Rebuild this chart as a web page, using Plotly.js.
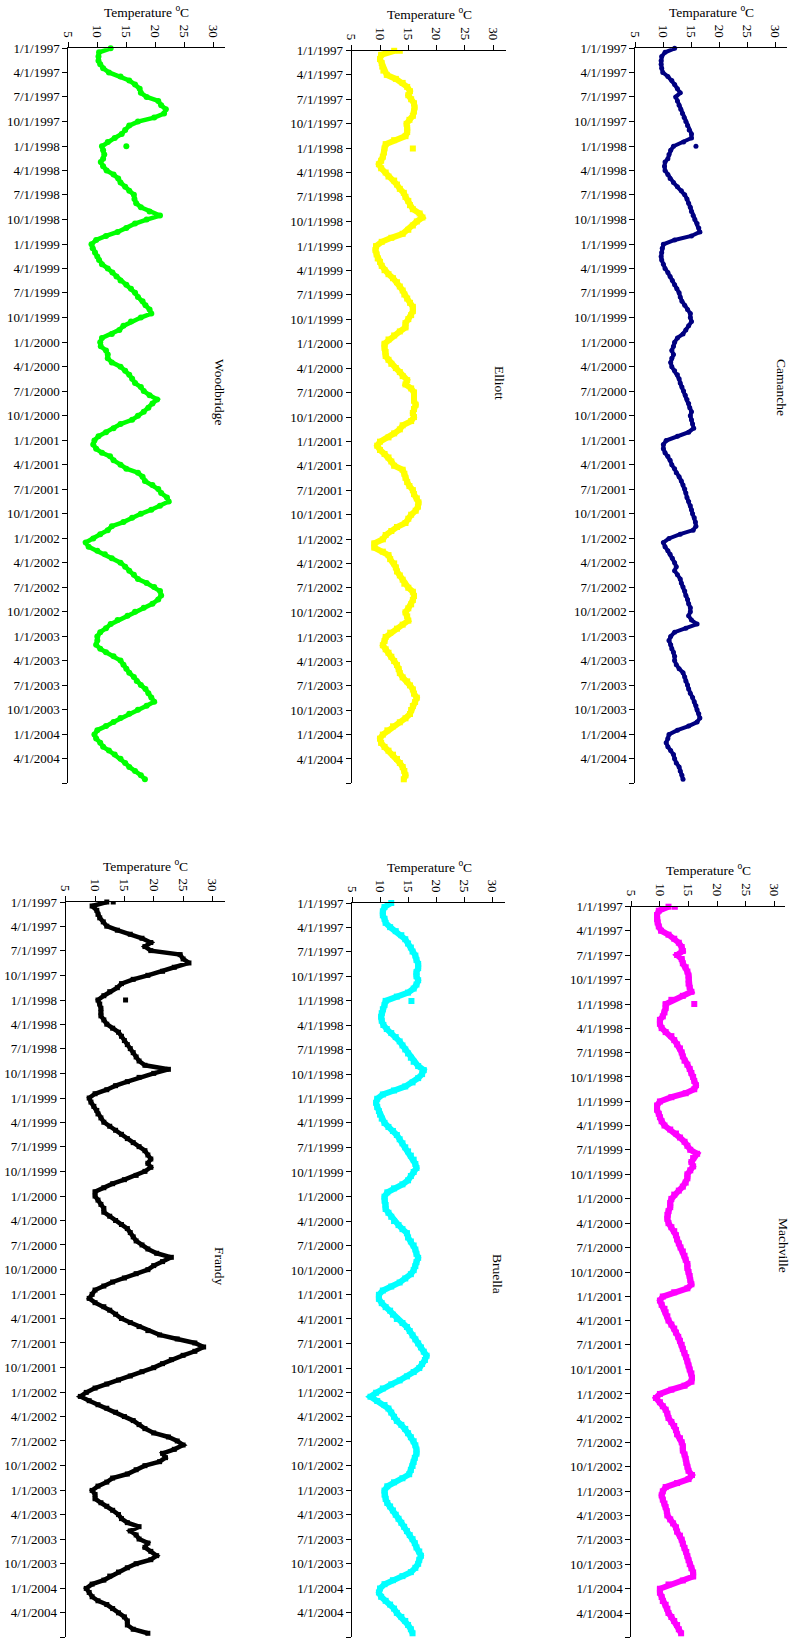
<!DOCTYPE html>
<html><head><meta charset="utf-8">
<script src="https://cdn.plot.ly/plotly-3.0.1.min.js"></script>
<style>html,body{margin:0;padding:0;background:#fff}#chart{width:793px;height:1642px}</style>
</head><body><div id="chart"></div>
<script>
// ---------- DATA ----------
const sampleDates = [
'1997-01-01','1997-01-16','1997-02-01','1997-02-16','1997-03-01','1997-03-16','1997-04-01','1997-04-16','1997-05-01','1997-05-16','1997-06-01','1997-06-16','1997-07-01','1997-07-16','1997-08-01','1997-08-16','1997-09-01','1997-09-16','1997-10-01','1997-10-16','1997-11-01','1997-11-16','1997-12-01','1997-12-16',
'1998-01-01','1998-01-16','1998-02-01','1998-02-16','1998-03-01','1998-03-16','1998-04-01','1998-04-16','1998-05-01','1998-05-16','1998-06-01','1998-06-16','1998-07-01','1998-07-16','1998-08-01','1998-08-16','1998-09-01','1998-09-16','1998-10-01','1998-10-16','1998-11-01','1998-11-16','1998-12-01','1998-12-16',
'1999-01-01','1999-01-16','1999-02-01','1999-02-16','1999-03-01','1999-03-16','1999-04-01','1999-04-16','1999-05-01','1999-05-16','1999-06-01','1999-06-16','1999-07-01','1999-07-16','1999-08-01','1999-08-16','1999-09-01','1999-09-16','1999-10-01','1999-10-16','1999-11-01','1999-11-16','1999-12-01','1999-12-16',
'2000-01-01','2000-01-16','2000-02-01','2000-02-16','2000-03-01','2000-03-16','2000-04-01','2000-04-16','2000-05-01','2000-05-16','2000-06-01','2000-06-16','2000-07-01','2000-07-16','2000-08-01','2000-08-16','2000-09-01','2000-09-16','2000-10-01','2000-10-16','2000-11-01','2000-11-16','2000-12-01','2000-12-16',
'2001-01-01','2001-01-16','2001-02-01','2001-02-16','2001-03-01','2001-03-16','2001-04-01','2001-04-16','2001-05-01','2001-05-16','2001-06-01','2001-06-16','2001-07-01','2001-07-16','2001-08-01','2001-08-16','2001-09-01','2001-09-16','2001-10-01','2001-10-16','2001-11-01','2001-11-16','2001-12-01','2001-12-16',
'2002-01-01','2002-01-16','2002-02-01','2002-02-16','2002-03-01','2002-03-16','2002-04-01','2002-04-16','2002-05-01','2002-05-16','2002-06-01','2002-06-16','2002-07-01','2002-07-16','2002-08-01','2002-08-16','2002-09-01','2002-09-16','2002-10-01','2002-10-16','2002-11-01','2002-11-16','2002-12-01','2002-12-16',
'2003-01-01','2003-01-16','2003-02-01','2003-02-16','2003-03-01','2003-03-16','2003-04-01','2003-04-16','2003-05-01','2003-05-16','2003-06-01','2003-06-16','2003-07-01','2003-07-16','2003-08-01','2003-08-16','2003-09-01','2003-09-16','2003-10-01','2003-10-16','2003-11-01','2003-11-16','2003-12-01','2003-12-16',
'2004-01-01','2004-01-16','2004-02-01','2004-02-16','2004-03-01','2004-03-16','2004-04-01','2004-04-16','2004-05-01','2004-05-16','2004-06-01','2004-06-16'
];

const woodbridge = [
12.3,10.3,10.2,10.2,10.5,11.0,12.0,14.0,15.5,16.5,17.3,17.5,18.5,20.5,21.0,21.8,21.5,19.8,17.0,15.5,14.8,14.2,13.0,11.8,
10.8,11.0,11.2,11.0,10.6,11.0,11.6,12.8,13.6,14.0,14.8,15.5,16.3,16.4,16.7,17.5,19.0,20.8,18.5,16.5,15.0,13.5,11.5,9.8,
9.0,9.2,9.6,10.0,10.3,10.8,11.8,12.6,13.3,14.0,15.0,15.8,16.5,17.0,17.8,18.3,19.0,19.3,17.5,15.8,14.5,13.8,12.5,10.8,
10.5,10.6,11.5,11.8,11.8,12.5,14.0,14.8,15.5,16.0,16.5,17.5,18.0,19.0,20.3,19.5,18.8,18.0,17.0,16.0,14.0,12.8,11.5,10.2,
9.5,9.3,9.8,10.8,12.2,12.8,14.0,15.0,17.0,17.8,18.2,19.5,20.5,21.0,22.0,22.3,20.8,19.3,17.5,16.0,14.5,12.5,11.8,10.5,
9.3,8.0,8.5,10.0,11.3,12.5,14.0,14.8,15.5,16.3,17.0,18.5,19.8,20.8,21.0,20.5,19.5,18.0,16.5,15.2,13.5,12.3,11.5,10.5,
10.0,10.0,9.8,10.5,11.5,12.8,14.0,14.5,15.0,15.5,16.3,16.8,17.5,18.3,18.8,19.3,19.8,18.5,17.0,15.5,14.0,12.8,11.5,10.0,
9.5,9.8,10.5,11.0,12.0,13.0,14.0,14.8,15.5,16.5,17.5,18.2
];

const elliott = [
12.5,10.2,10.0,10.3,10.4,10.6,11.2,12.8,14.0,14.8,15.3,15.0,15.5,16.0,16.1,16.0,15.8,15.2,14.7,14.8,14.8,14.5,12.5,11.0,
10.8,10.7,10.5,10.2,9.8,10.2,11.0,11.5,12.5,13.0,13.5,14.2,14.5,15.0,15.3,15.8,17.0,17.5,16.5,15.8,15.0,14.0,12.0,10.3,
9.3,9.2,9.4,9.6,10.0,10.3,10.8,11.5,12.3,13.0,13.5,14.0,14.3,14.8,15.3,15.8,15.8,15.5,15.0,14.5,14.5,13.5,12.5,11.5,
10.8,10.8,11.0,11.0,11.5,12.0,12.8,13.5,14.0,14.8,14.5,15.5,16.0,16.0,16.0,16.3,16.0,15.8,16.0,15.5,14.0,13.5,12.5,11.5,
10.0,9.5,10.0,10.8,11.5,12.0,12.5,14.0,14.3,14.5,14.8,15.2,15.8,16.0,16.5,16.8,16.7,16.3,15.5,15.0,14.5,13.0,12.0,11.0,
10.5,9.0,9.0,10.5,11.5,11.8,12.5,12.8,13.0,13.5,14.0,14.3,15.0,15.8,16.0,15.8,15.5,15.0,14.5,14.8,15.0,14.0,13.0,11.8,
11.0,10.8,10.5,11.0,11.5,12.0,12.5,13.0,13.3,13.5,14.0,14.8,15.3,15.8,16.0,16.5,16.2,15.8,15.5,15.3,14.5,13.5,12.3,11.3,
10.5,10.0,10.2,10.8,11.5,12.3,13.0,13.5,14.0,14.3,14.5,14.2
];

const camanche = [
12.0,10.3,9.7,9.6,9.6,9.7,9.9,10.8,11.5,12.0,12.5,13.0,12.2,12.5,12.8,13.1,13.4,13.7,14.0,14.3,14.6,15.0,15.0,13.6,
11.8,11.3,11.0,10.8,10.3,10.2,10.3,10.8,11.2,11.8,12.5,13.2,13.8,14.2,14.5,14.8,15.0,15.3,15.6,16.0,16.3,16.5,15.0,12.0,
10.0,9.8,9.7,9.6,9.7,10.0,10.3,10.8,11.2,11.6,12.0,12.4,12.8,13.0,13.3,13.8,14.3,14.8,14.8,15.0,14.5,14.0,13.5,12.5,
12.0,11.8,11.5,11.8,11.5,11.3,11.5,12.0,12.5,12.8,13.0,13.3,13.6,13.9,14.2,14.5,14.7,15.0,14.8,15.0,15.2,15.4,14.5,12.5,
10.5,10.0,10.0,10.3,10.8,11.2,11.5,12.0,12.3,12.8,13.2,13.5,13.8,14.0,14.2,14.5,14.8,15.0,15.2,15.5,15.7,15.8,15.3,13.0,
11.0,10.0,10.3,10.8,11.2,11.6,12.0,12.3,12.0,12.5,13.0,13.2,13.5,13.8,14.0,14.3,14.5,14.8,14.8,14.5,15.0,16.0,14.0,12.0,
11.3,11.0,11.3,11.5,11.8,12.0,12.0,12.3,12.8,13.5,13.8,14.0,14.3,14.5,14.8,15.2,15.5,15.8,16.0,16.3,16.5,16.0,14.5,12.5,
11.0,10.8,10.5,10.8,11.3,11.8,12.0,12.3,12.8,13.0,13.3,13.5
];

const frandy = [
12.0,9.5,10.3,10.5,10.8,11.4,12.0,13.8,16.0,18.0,19.5,18.5,19.5,24.5,25.0,26.0,23.5,21.5,19.0,16.5,14.5,13.8,12.5,11.5,
10.5,10.8,11.0,11.0,11.0,11.5,12.0,13.0,14.0,14.5,15.0,15.5,16.0,16.5,17.0,17.5,18.5,22.5,20.0,17.5,15.5,13.5,12.0,10.0,
9.0,9.3,9.8,10.3,10.5,11.0,11.5,12.5,13.5,14.5,15.5,16.5,17.5,18.5,19.0,19.5,19.0,19.5,18.5,17.0,15.0,13.0,11.5,10.0,
10.0,10.5,11.0,11.5,11.5,12.5,13.5,14.5,15.5,16.0,16.5,17.0,18.0,19.0,20.5,23.0,21.5,20.0,19.0,17.0,15.0,13.0,11.5,10.0,
9.5,9.0,10.0,11.5,12.5,13.5,14.5,16.0,17.5,19.0,21.0,24.0,27.0,28.5,27.0,25.0,23.0,21.5,20.0,18.0,16.0,14.0,12.0,10.0,
8.5,7.5,9.0,10.5,12.0,13.5,15.0,16.5,17.5,18.5,20.0,22.5,24.0,25.0,23.5,21.5,22.0,21.0,18.5,17.0,15.5,13.0,12.0,10.5,
9.5,10.0,10.0,11.0,12.0,13.0,14.0,14.5,15.5,17.5,16.0,17.0,17.5,19.0,18.5,19.5,20.5,19.5,17.0,15.5,14.0,12.5,11.5,9.5,
8.5,9.0,9.5,10.5,12.0,13.0,14.0,15.0,15.5,15.5,16.5,19.0
];

const bruella = [
12.0,10.8,10.5,10.5,10.8,11.0,11.8,12.8,13.8,14.5,15.0,15.5,15.8,16.3,16.5,16.8,16.8,16.5,16.5,16.8,16.5,16.0,15.0,13.0,
11.0,10.8,10.5,10.3,10.2,10.3,10.6,11.2,12.0,12.8,13.5,14.0,14.5,15.0,15.5,16.0,16.8,17.8,17.5,16.8,15.8,14.5,12.5,10.5,
9.5,9.3,9.5,9.8,10.0,10.3,10.8,11.5,12.3,13.0,13.5,14.0,14.5,15.0,15.5,16.0,16.3,16.5,16.0,15.5,15.0,14.0,12.5,11.3,
10.8,10.8,11.0,11.0,11.5,12.0,12.5,13.3,14.0,14.8,15.0,15.5,16.0,16.3,16.5,16.8,16.5,16.3,16.0,15.5,14.5,13.5,12.0,10.5,
9.8,9.8,10.3,11.0,11.8,12.3,13.0,14.0,14.8,15.3,15.8,16.3,16.8,17.3,17.8,18.3,18.0,17.5,17.0,16.0,14.8,13.5,12.0,10.5,
9.3,8.3,9.5,10.8,11.5,12.0,12.5,13.0,13.8,14.5,15.0,15.5,16.0,16.3,16.5,16.5,16.2,16.0,15.8,15.5,15.2,14.0,12.5,11.3,
10.8,10.8,11.0,11.3,11.8,12.3,12.8,13.3,13.8,14.3,14.8,15.3,15.8,16.2,16.5,17.0,17.3,17.0,16.8,16.3,15.5,14.0,12.3,10.8,
10.0,9.8,10.2,11.0,11.8,12.5,13.0,13.8,14.5,15.0,15.5,15.8
];

const machville = [
11.5,9.8,9.5,9.5,9.6,9.8,10.2,11.5,12.5,13.3,13.8,14.0,13.0,13.8,14.0,14.5,14.8,15.0,15.0,15.0,15.2,15.5,14.0,12.0,
11.0,11.0,10.8,10.5,10.0,10.0,10.3,11.0,12.0,12.5,13.0,13.5,13.8,14.0,14.3,14.8,15.2,15.5,15.8,16.0,16.3,16.0,14.5,12.0,
10.0,9.5,9.5,9.8,10.0,10.3,10.8,11.8,12.8,13.5,14.3,14.8,15.3,16.5,15.8,15.5,15.8,15.3,14.8,14.8,14.5,14.0,13.3,12.5,
12.0,11.8,11.8,11.5,11.3,11.3,11.5,12.0,12.5,12.8,13.0,13.3,13.6,14.0,14.3,14.5,14.8,14.8,15.0,15.2,15.3,15.5,14.8,12.5,
10.5,10.0,10.3,10.8,11.0,11.3,11.5,12.0,12.5,12.8,13.2,13.5,13.8,14.0,14.3,14.6,14.8,15.0,15.2,15.5,15.6,15.5,14.3,12.0,
10.0,9.3,10.0,10.5,11.0,11.3,11.5,12.0,12.5,12.8,13.0,13.5,13.8,14.0,14.0,14.3,14.5,14.6,14.8,15.0,15.6,15.0,13.0,11.0,
10.5,10.3,10.5,10.8,11.0,11.2,11.3,11.8,12.3,12.8,13.0,13.5,13.8,14.0,14.3,14.6,14.8,15.0,15.2,15.5,15.8,15.8,14.0,11.5,
10.0,10.0,10.3,10.5,11.0,11.3,11.5,12.0,12.5,13.0,13.3,13.7
];

// isolated single readings (spikes)
const woodbridgeSpikeDates = ['1998-01-01'];
const woodbridgeSpikes = [15.0];
const elliottSpikeDates = ['1997-01-01','1998-01-01'];
const elliottSpikes = [13.5, 15.8];
const camancheSpikeDates = ['1998-01-01'];
const camancheSpikes = [15.8];
const frandySpikeDates = ['1997-01-01','1998-01-01'];
const frandySpikes = [13.1, 15.2];
const bruellaSpikeDates = ['1998-01-01'];
const bruellaSpikes = [15.6];
const machvilleSpikeDates = ['1997-01-01','1998-01-01'];
const machvilleSpikes = [12.6, 16.0];

const stationNames = ['Woodbridge','Elliott','Camanche','Frandy','Bruella','Machville'];
const axisTitles = ['Temperature <sup>o</sup>C','Temperature <sup>o</sup>C','Temparature <sup>o</sup>C',
                    'Temperature <sup>o</sup>C','Temperature <sup>o</sup>C','Temperature <sup>o</sup>C'];
const tempTicks = [5,10,15,20,25,30];
const dateTickLabels = [
'1/1/1997','4/1/1997','7/1/1997','10/1/1997','1/1/1998','4/1/1998','7/1/1998','10/1/1998',
'1/1/1999','4/1/1999','7/1/1999','10/1/1999','1/1/2000','4/1/2000','7/1/2000','10/1/2000',
'1/1/2001','4/1/2001','7/1/2001','10/1/2001','1/1/2002','4/1/2002','7/1/2002','10/1/2002',
'1/1/2003','4/1/2003','7/1/2003','10/1/2003','1/1/2004','4/1/2004'
];
const axisStartDate = '1997-01-01';
const axisEndDate = '2004-07-01';

// ---------- LAYOUT / STYLE ----------
const W = 793, H = 1642;
const panels = [
  {x0:68.3,  x1:225.0, top:48.3,  bottom:783.3,  xmax:32.0, color:'#00ff00', symbol:'circle', size:6, lw:4.5,
   values:woodbridge, sd:woodbridgeSpikeDates, sv:woodbridgeSpikes, label:[219,392], title:[146.7,12]},
  {x0:351.7, x1:505.7, top:50.8,  bottom:783.3,  xmax:32.2, color:'#ffff00', symbol:'square', size:6, lw:6,
   values:elliott, sd:elliottSpikeDates, sv:elliottSpikes, label:[500,383], title:[429,13.5]},
  {x0:635.3, x1:787.3, top:48.3,  bottom:783.3,  xmax:32.07, color:'#000080', symbol:'circle', size:5, lw:4,
   values:camanche, sd:camancheSpikeDates, sv:camancheSpikes, label:[781,387], title:[711.3,12]},
  {x0:65.7,  x1:225.0, top:902.0, bottom:1637.3, xmax:32.14, color:'#000000', symbol:'square', size:5, lw:4.5,
   values:frandy, sd:frandySpikeDates, sv:frandySpikes, label:[220,1266], title:[145,865]},
  {x0:352.0, x1:504.5, top:903.0, bottom:1637.3, xmax:32.2, color:'#00ffff', symbol:'square', size:6, lw:6,
   values:bruella, sd:bruellaSpikeDates, sv:bruellaSpikes, label:[498,1274], title:[429.5,866]},
  {x0:631.3, x1:785.3, top:906.7, bottom:1637.3, xmax:31.9, color:'#ff00ff', symbol:'square', size:6, lw:6,
   values:machville, sd:machvilleSpikeDates, sv:machvilleSpikes, label:[784,1245], title:[708,870]}
];

function toISO(s){ const p = s.split('/'); return p[2]+'-'+p[0].padStart(2,'0')+'-'+p[1].padStart(2,'0'); }
const yTickVals = dateTickLabels.map(toISO);

const FONT = 'Liberation Serif';
const traces = [];
const layout = {
  width: W, height: H, margin:{l:0,r:0,t:0,b:0},
  paper_bgcolor:'#ffffff', plot_bgcolor:'#ffffff',
  showlegend:false, font:{family:FONT, size:13, color:'#000'},
  annotations: []
};

panels.forEach((p, i) => {
  const n = i === 0 ? '' : String(i+1);
  const xa = 'x' + n, ya = 'y' + n;
  traces.push({
    type:'scatter', mode:'lines+markers', x:p.values, y:sampleDates, xaxis:xa, yaxis:ya,
    line:{color:p.color, width:p.lw}, marker:{color:p.color, size:p.size, symbol:p.symbol},
    hoverinfo:'skip', cliponaxis:false
  });
  traces.push({
    type:'scatter', mode:'markers', x:p.sv, y:p.sd, xaxis:xa, yaxis:ya,
    marker:{color:p.color, size:p.size, symbol:p.symbol}, hoverinfo:'skip'
  });
  layout['xaxis'+n] = {
    domain:[p.x0/W, p.x1/W], anchor:ya, side:'top', range:[5, p.xmax],
    tickmode:'array', tickvals:tempTicks, ticktext:tempTicks.map(String), tickangle:90,
    ticks:'outside', ticklen:5, tickwidth:1, tickcolor:'#000',
    showline:true, linecolor:'#000', linewidth:1, showgrid:false, zeroline:false,
    tickfont:{family:FONT, size:13, color:'#000'}, fixedrange:true
  };
  layout['yaxis'+n] = {
    domain:[1 - p.bottom/H, 1 - p.top/H], anchor:xa, type:'date',
    range:[axisEndDate, axisStartDate],
    tickmode:'array', tickvals:yTickVals, ticktext:dateTickLabels,
    ticks:'outside', ticklen:5, tickwidth:1, tickcolor:'#000',
    minor:{tickmode:'array', tickvals:[axisEndDate], ticks:'outside', ticklen:5, tickwidth:1, tickcolor:'#000', showgrid:false},
    showline:true, linecolor:'#000', linewidth:1, showgrid:false, zeroline:false,
    tickfont:{family:FONT, size:13, color:'#000'}, fixedrange:true
  };
  layout.annotations.push({
    xref:'paper', yref:'paper', x:p.title[0]/W, y:1 - p.title[1]/H,
    xanchor:'center', yanchor:'middle', showarrow:false, text:axisTitles[i],
    font:{family:FONT, size:13.5, color:'#000'}
  });
  layout.annotations.push({
    xref:'paper', yref:'paper', x:p.label[0]/W, y:1 - p.label[1]/H,
    xanchor:'center', yanchor:'middle', showarrow:false, text:stationNames[i], textangle:90,
    font:{family:FONT, size:13.5, color:'#000'}
  });
});

Plotly.newPlot('chart', traces, layout, {staticPlot:true, displayModeBar:false});
</script>
</body></html>
